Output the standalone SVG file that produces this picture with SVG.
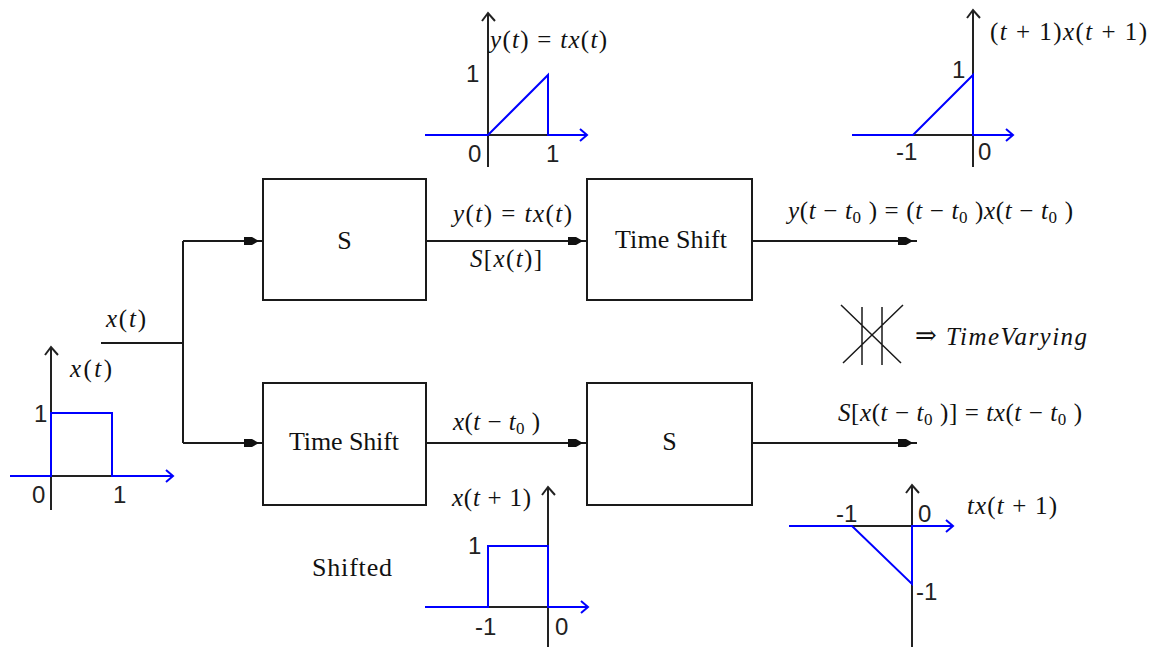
<svg xmlns="http://www.w3.org/2000/svg" width="1152" height="647" viewBox="0 0 1152 647">
<defs>
<marker id="ah" markerUnits="userSpaceOnUse" markerWidth="20" markerHeight="10" viewBox="0 0 20 10" refX="19" refY="5" orient="auto" overflow="visible">
<path d="M0,1 L8,1 L15,5 L8,9 L0,9 Z" fill="#111"/>
</marker>
<polyline id="up" points="-6,8 0,0 7,8" fill="none" stroke="#222" stroke-width="2"/>
<polyline id="right" points="-7,-6 0,0 -7,6" fill="none" stroke="#0000ff" stroke-width="2"/>
</defs>
<rect x="0" y="0" width="1152" height="647" fill="#fff"/>

<g id="connectors">
<g fill="none" stroke="#1a1a1a" stroke-width="2">
<path d="M101,343 H183 M183,241 V443"/>
<path d="M183,241 H263" marker-end="url(#ah)"/>
<path d="M183,443 H263" marker-end="url(#ah)"/>
<path d="M426,241 H587" marker-end="url(#ah)"/>
<path d="M752,241 H917" marker-end="url(#ah)"/>
<path d="M426,443 H587" marker-end="url(#ah)"/>
<path d="M752,443 H917" marker-end="url(#ah)"/>
</g>
<text x="106" y="327" textLength="40" style="font-family:'Liberation Serif',serif;font-size:25px;fill:#111"><tspan font-style="italic">x</tspan>(<tspan font-style="italic">t</tspan>)</text>
<text x="453" y="222" textLength="119" style="font-family:'Liberation Serif',serif;font-size:25px;fill:#111"><tspan font-style="italic">y</tspan>(<tspan font-style="italic">t</tspan>) = <tspan font-style="italic">tx</tspan>(<tspan font-style="italic">t</tspan>)</text>
<text x="470" y="267" textLength="72" style="font-family:'Liberation Serif',serif;font-size:25px;fill:#111"><tspan font-style="italic">S</tspan>[<tspan font-style="italic">x</tspan>(<tspan font-style="italic">t</tspan>)]</text>
<text x="788" y="219" textLength="285" style="font-family:'Liberation Serif',serif;font-size:25px;fill:#111"><tspan font-style="italic">y</tspan>(<tspan font-style="italic">t</tspan> − <tspan font-style="italic">t</tspan><tspan font-size="17" dy="4">0</tspan><tspan dy="-4"> ) = (</tspan><tspan font-style="italic">t</tspan> − <tspan font-style="italic">t</tspan><tspan font-size="17" dy="4">0</tspan><tspan dy="-4"> )</tspan><tspan font-style="italic">x</tspan>(<tspan font-style="italic">t</tspan> − <tspan font-style="italic">t</tspan><tspan font-size="17" dy="4">0</tspan><tspan dy="-4"> )</tspan></text>
<text x="453" y="430" textLength="87" style="font-family:'Liberation Serif',serif;font-size:25px;fill:#111"><tspan font-style="italic">x</tspan>(<tspan font-style="italic">t</tspan> − <tspan font-style="italic">t</tspan><tspan font-size="17" dy="4">0</tspan><tspan dy="-4"> )</tspan></text>
<text x="838" y="421" textLength="244" style="font-family:'Liberation Serif',serif;font-size:25px;fill:#111"><tspan font-style="italic">S</tspan>[<tspan font-style="italic">x</tspan>(<tspan font-style="italic">t</tspan> − <tspan font-style="italic">t</tspan><tspan font-size="17" dy="4">0</tspan><tspan dy="-4"> )] = </tspan><tspan font-style="italic">tx</tspan>(<tspan font-style="italic">t</tspan> − <tspan font-style="italic">t</tspan><tspan font-size="17" dy="4">0</tspan><tspan dy="-4"> )</tspan></text>
</g>

<g id="box-s-top">
<rect x="263" y="179" width="163" height="121" fill="#fff" stroke="#1a1a1a" stroke-width="2"/>
<text x="344.5" y="249" text-anchor="middle" style="font-family:'Liberation Serif',serif;font-size:26px;fill:#111">S</text>
</g>
<g id="box-shift-top">
<rect x="587" y="179" width="165" height="121" fill="#fff" stroke="#1a1a1a" stroke-width="2"/>
<text x="615" y="248" textLength="112" style="font-family:'Liberation Serif',serif;font-size:26px;fill:#111">Time Shift</text>
</g>
<g id="box-shift-bottom">
<rect x="263" y="383" width="163" height="122" fill="#fff" stroke="#1a1a1a" stroke-width="2"/>
<text x="289" y="450" textLength="110" style="font-family:'Liberation Serif',serif;font-size:26px;fill:#111">Time Shift</text>
</g>
<g id="box-s-bottom">
<rect x="587" y="383" width="165" height="122" fill="#fff" stroke="#1a1a1a" stroke-width="2"/>
<text x="669.5" y="450" text-anchor="middle" style="font-family:'Liberation Serif',serif;font-size:26px;fill:#111">S</text>
</g>

<g id="not-equal">
<path fill="none" stroke="#1a1a1a" stroke-width="1.5" d="M841,305 L901,363 M903,305 L843,363 M862,307 V365 M882,307 V365"/>
<text x="915" y="344" style="font-family:'DejaVu Serif',serif;font-size:26px;fill:#111">⇒</text>
<text x="946" y="345" textLength="141" style="font-family:'Liberation Serif',serif;font-style:italic;font-size:25px;fill:#111">TimeVarying</text>
</g>

<g id="graphs">
<g fill="none" stroke-width="2">
<path stroke="#222" d="M51,347 V510 M51,476 H112 M488,13 V167 M488,135 H548 M973,10 V167 M913,135 H973 M548,487 V647 M488,607 H548 M912,485 V647 M852,526 H912"/>
<path stroke="#0000ff" d="M10,476 H51 V413 H112 V476 H173 M425,135 H488 L548,75 V135 H587 M852,135 H913 L973,75 V135 H1013 M425,607 H488 V546 H548 V607 H588 M789,526 H852 L912,584 V526 H953"/>
</g>
<use href="#up" x="51" y="347"/>
<use href="#up" x="488" y="13"/>
<use href="#up" x="973" y="10"/>
<use href="#up" x="548" y="487"/>
<use href="#up" x="912" y="485"/>
<use href="#right" x="173" y="476"/>
<use href="#right" x="587" y="135"/>
<use href="#right" x="1013" y="135"/>
<use href="#right" x="588" y="607"/>
<use href="#right" x="953" y="526"/>
<text x="70" y="377" textLength="42" style="font-family:'Liberation Serif',serif;font-size:25px;fill:#111"><tspan font-style="italic">x</tspan>(<tspan font-style="italic">t</tspan>)</text>
<text x="490" y="48" textLength="117" style="font-family:'Liberation Serif',serif;font-size:25px;fill:#111"><tspan font-style="italic">y</tspan>(<tspan font-style="italic">t</tspan>) = <tspan font-style="italic">tx</tspan>(<tspan font-style="italic">t</tspan>)</text>
<text x="990" y="40" textLength="157" style="font-family:'Liberation Serif',serif;font-size:25px;fill:#111">(<tspan font-style="italic">t</tspan> + 1)<tspan font-style="italic">x</tspan>(<tspan font-style="italic">t</tspan> + 1)</text>
<text x="452" y="506" textLength="79" style="font-family:'Liberation Serif',serif;font-size:25px;fill:#111"><tspan font-style="italic">x</tspan>(<tspan font-style="italic">t</tspan> + 1)</text>
<text x="967" y="514" textLength="90" style="font-family:'Liberation Serif',serif;font-size:25px;fill:#111"><tspan font-style="italic">tx</tspan>(<tspan font-style="italic">t</tspan> + 1)</text>
<text x="312" y="576" textLength="80" style="font-family:'Liberation Serif',serif;font-size:26px;fill:#111">Shifted</text>
<text x="34" y="422" style="font-family:'Liberation Sans',sans-serif;font-size:24px;fill:#222">1</text>
<text x="32" y="503" style="font-family:'Liberation Sans',sans-serif;font-size:24px;fill:#222">0</text>
<text x="113" y="503" style="font-family:'Liberation Sans',sans-serif;font-size:24px;fill:#222">1</text>
<text x="466" y="82" style="font-family:'Liberation Sans',sans-serif;font-size:24px;fill:#222">1</text>
<text x="468" y="162" style="font-family:'Liberation Sans',sans-serif;font-size:24px;fill:#222">0</text>
<text x="546" y="162" style="font-family:'Liberation Sans',sans-serif;font-size:24px;fill:#222">1</text>
<text x="952" y="78" style="font-family:'Liberation Sans',sans-serif;font-size:24px;fill:#222">1</text>
<text x="896" y="160" style="font-family:'Liberation Sans',sans-serif;font-size:24px;fill:#222">-1</text>
<text x="978" y="160" style="font-family:'Liberation Sans',sans-serif;font-size:24px;fill:#222">0</text>
<text x="468" y="554" style="font-family:'Liberation Sans',sans-serif;font-size:24px;fill:#222">1</text>
<text x="475" y="635" style="font-family:'Liberation Sans',sans-serif;font-size:24px;fill:#222">-1</text>
<text x="555" y="635" style="font-family:'Liberation Sans',sans-serif;font-size:24px;fill:#222">0</text>
<text x="836" y="522" style="font-family:'Liberation Sans',sans-serif;font-size:24px;fill:#222">-1</text>
<text x="918" y="522" style="font-family:'Liberation Sans',sans-serif;font-size:24px;fill:#222">0</text>
<text x="916" y="600" style="font-family:'Liberation Sans',sans-serif;font-size:24px;fill:#222">-1</text>
</g>
</svg>
